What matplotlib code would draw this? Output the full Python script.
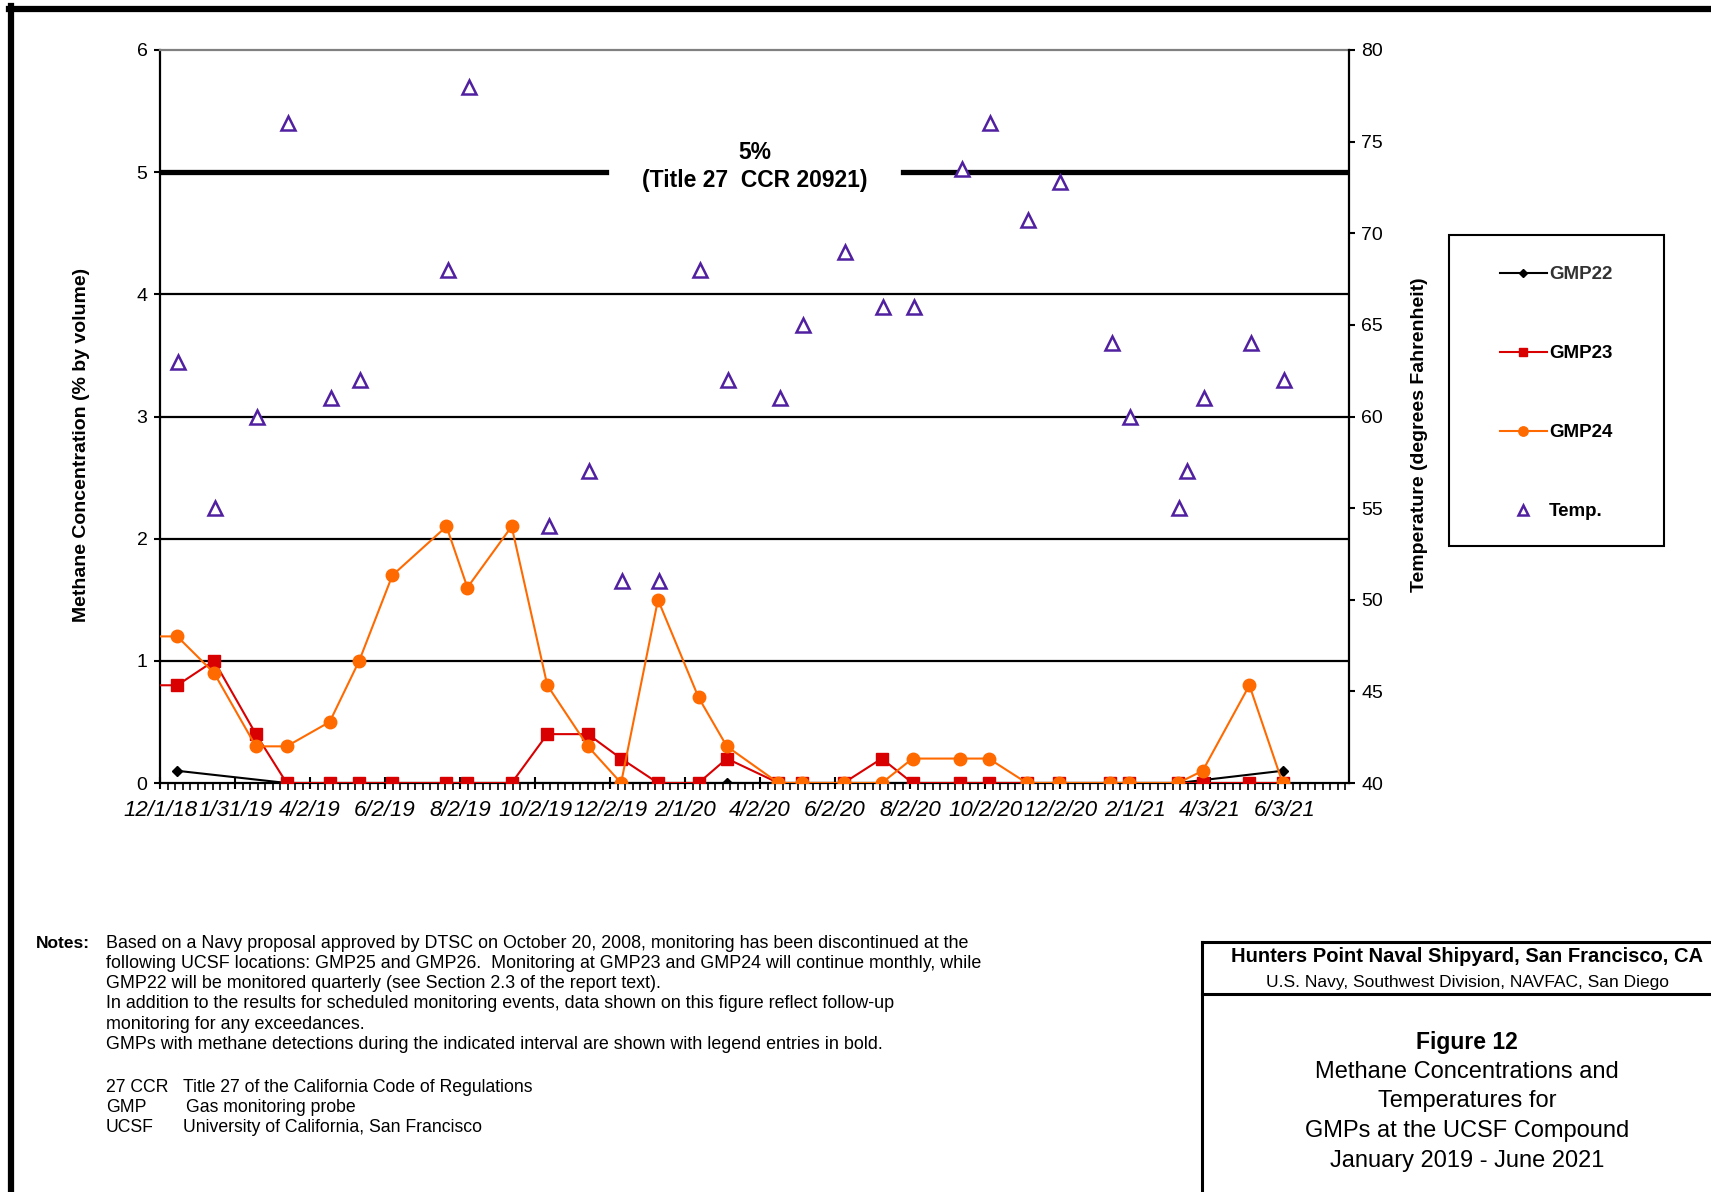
import matplotlib
matplotlib.use("Agg")
import matplotlib.pyplot as plt
import matplotlib.dates as mdates
from matplotlib.lines import Line2D
from matplotlib.patches import Rectangle
import numpy as np
import pandas as pd

plt.rcParams['font.family'] = ['Liberation Sans', 'DejaVu Sans']

W, H = 1711, 1192

# monthly sampling events (first one lies before the axis start)
gmp_dates = ["11/14/18", "12/15/18", "1/14/19", "2/17/19", "3/14/19", "4/18/19",
             "5/12/19", "6/8/19", "7/22/19", "8/8/19", "9/13/19", "10/12/19",
             "11/14/19", "12/11/19", "1/10/20", "2/12/20", "3/6/20", "4/17/20",
             "5/6/20", "6/9/20", "7/10/20", "8/4/20", "9/12/20", "10/5/20",
             "11/5/20", "12/1/20", "1/12/21", "1/27/21", "3/8/21", "3/28/21",
             "5/5/21", "6/1/21"]
gmp23 = [0.8, 0.8, 1.0, 0.4, 0, 0, 0, 0, 0, 0, 0, 0.4,
         0.4, 0.2, 0, 0, 0.2, 0, 0, 0, 0.2, 0, 0, 0,
         0, 0, 0, 0, 0, 0, 0, 0]
gmp24 = [1.2, 1.2, 0.9, 0.3, 0.3, 0.5, 1.0, 1.7, 2.1, 1.6, 2.1, 0.8,
         0.3, 0, 1.5, 0.7, 0.3, 0, 0, 0, 0, 0.2, 0.2, 0.2,
         0, 0, 0, 0, 0, 0.1, 0.8, 0]

# quarterly probe
gmp22_dates = ["12/15/18", "3/14/19", "6/8/19", "9/13/19", "12/11/19", "3/6/20",
               "6/9/20", "9/12/20", "12/1/20", "3/8/21", "6/1/21"]
gmp22 = [0.1, 0, 0, 0, 0, 0, 0, 0, 0, 0, 0.1]

temp_dates = ["12/16/18", "1/15/19", "2/18/19", "3/15/19", "4/19/19", "5/13/19",
              "7/23/19", "8/9/19", "10/13/19", "11/15/19", "12/12/19", "1/11/20",
              "2/13/20", "3/7/20", "4/18/20", "5/7/20", "6/10/20", "7/11/20",
              "8/5/20", "9/13/20", "10/6/20", "11/6/20", "12/2/20", "1/13/21",
              "1/28/21", "3/9/21", "3/15/21", "3/29/21", "5/6/21", "6/2/21"]
temp = [63, 55, 60, 76, 61, 62, 68, 78, 54, 57, 51, 51,
        68, 62, 61, 65, 69, 66, 66, 73.5, 76, 70.7, 72.8, 64,
        60, 55, 57, 61, 64, 62]

x_tick_labels = ["12/1/18", "1/31/19", "4/2/19", "6/2/19", "8/2/19", "10/2/19",
                 "12/2/19", "2/1/20", "4/2/20", "6/2/20", "8/2/20", "10/2/20",
                 "12/2/20", "2/1/21", "4/3/21", "6/3/21"]
x_end = "7/25/21"


def d(lst):
    return pd.to_datetime(lst, format="%m/%d/%y")


def fx(px):
    return px / W


def fy(py):
    return 1 - py / H


fig = plt.figure(figsize=(W / 100, H / 100), dpi=100)
ax = fig.add_axes([fx(160), fy(783), fx(1349) - fx(160), fy(50) - fy(783)])
ax2 = ax.twinx()

c22, c23, c24, ct = "black", "#D80000", "#FF6A00", "#5020A0"

l22, = ax.plot(d(gmp22_dates), gmp22, color=c22, lw=1.5, marker="D", ms=5.5, zorder=3)
l23, = ax.plot(d(gmp_dates), gmp23, color=c23, lw=1.5, marker="s", ms=8.5, zorder=4)
l24, = ax.plot(d(gmp_dates), gmp24, color=c24, lw=1.5, marker="o", ms=9, zorder=5)
lt, = ax2.plot(d(temp_dates), temp, ls="none", marker="^", ms=10, mfc="white",
               mec=ct, mew=1.8)

ticks = d(x_tick_labels)
ax.set_xlim(mdates.date2num(ticks[0]), mdates.date2num(d([x_end])[0]))
ax.set_xticks(ticks, x_tick_labels, fontstyle="italic", fontsize=16)
t0 = mdates.date2num(ticks[0])
ax.set_xticks(np.arange(t0, ax.get_xlim()[1], 6.1), minor=True)
ax.tick_params(axis="x", which="major", direction="inout", length=9, width=1.5, pad=8)
ax.tick_params(axis="x", which="minor", direction="out", length=5, width=1.2)

ax.set_ylim(0, 6)
ax.set_yticks(range(0, 7))
ax.tick_params(axis="y", direction="out", length=4, width=1.5, labelsize=14, pad=5)
ax2.set_ylim(40, 80)
ax2.set_yticks(range(40, 81, 5))
ax2.tick_params(axis="y", direction="out", length=4, width=1.5, labelsize=14, pad=5)

for v in [1, 2, 3, 4]:
    ax.axhline(v, color="black", lw=1.6, zorder=1)
ax.axhline(5, xmin=0, xmax=0.375, color="black", lw=3.8, zorder=1)
ax.axhline(5, xmin=0.625, xmax=1, color="black", lw=3.8, zorder=1)
ax.text(0.5, 5.16, "5%", transform=ax.get_yaxis_transform(), ha="center", va="center",
        fontsize=16.5, fontweight="bold")
ax.text(0.5, 4.93, "(Title 27  CCR 20921)", transform=ax.get_yaxis_transform(),
        ha="center", va="center", fontsize=16.5, fontweight="bold")

for a in (ax, ax2):
    for s in a.spines.values():
        s.set_linewidth(1.6)
ax.spines["right"].set_visible(False)
ax.spines["top"].set_color("#808080")
ax2.spines["left"].set_visible(False)
ax2.spines["bottom"].set_visible(False)
ax2.spines["top"].set_visible(False)

fig.text(fx(82), fy(445), "Methane Concentration (% by volume)", rotation=90,
         ha="center", va="center", fontsize=14, fontweight="bold")
fig.text(fx(1419), fy(435), "Temperature (degrees Fahrenheit)", rotation=90,
         ha="center", va="center", fontsize=14, fontweight="bold")

# legend
leg = fig.legend([l22, l23, l24, lt], ["GMP22", "GMP23", "GMP24", "Temp."],
                 loc="upper left", bbox_to_anchor=(fx(1500), fy(266)),
                 frameon=False, borderpad=0, borderaxespad=0, labelspacing=3.3,
                 handlelength=2.5, handletextpad=0.1, markerscale=0.75,
                 prop={"weight": "bold", "size": 13.5})
leg.get_texts()[0].set_color("#333333")
fig.add_artist(Rectangle((fx(1449), fy(546)), fx(1664) - fx(1449), fy(235) - fy(546),
                         transform=fig.transFigure, fill=False, ec="black", lw=1.5))

# page frame
fig.add_artist(Line2D([fx(9), 1], [fy(9), fy(9)], color="black", lw=4.5))
fig.add_artist(Line2D([fx(11), fx(11)], [fy(6), 0], color="black", lw=4.5))

# notes
notes = ["Based on a Navy proposal approved by DTSC on October 20, 2008, monitoring has been discontinued at the",
         "following UCSF locations: GMP25 and GMP26.  Monitoring at GMP23 and GMP24 will continue monthly, while",
         "GMP22 will be monitored quarterly (see Section 2.3 of the report text).",
         "In addition to the results for scheduled monitoring events, data shown on this figure reflect follow-up",
         "monitoring for any exceedances.",
         "GMPs with methane detections during the indicated interval are shown with legend entries in bold."]
note_y = [943, 963.5, 983, 1004, 1024.5, 1044.5]
fig.text(fx(36), fy(943), "Notes:", ha="left", va="center", fontsize=12.5, fontweight="bold")
for t, yy in zip(notes, note_y):
    fig.text(fx(106), fy(yy), t, ha="left", va="center", fontsize=12.9)

abbr = [("27 CCR", "Title 27 of the California Code of Regulations"),
        ("GMP", "Gas monitoring probe"),
        ("UCSF", "University of California, San Francisco")]
abbr_x = [183, 185.5, 183]
for (k, v), xx, yy in zip(abbr, abbr_x, [1087, 1107.5, 1127]):
    fig.text(fx(106), fy(yy), k, ha="left", va="center", fontsize=12.7)
    fig.text(fx(xx), fy(yy), v, ha="left", va="center", fontsize=12.7)

# title block
fig.add_artist(Line2D([fx(1202), 1], [fy(942), fy(942)], color="black", lw=2.2))
fig.add_artist(Line2D([fx(1202), 1], [fy(994), fy(994)], color="black", lw=2.2))
fig.add_artist(Line2D([fx(1202), fx(1202)], [fy(942), 0], color="black", lw=2.2))
cx = fx(1467)
fig.text(cx, fy(956), "Hunters Point Naval Shipyard, San Francisco, CA", ha="center",
         va="center", fontsize=14.5, fontweight="bold")
fig.text(cx, fy(983), "U.S. Navy, Southwest Division, NAVFAC, San Diego", ha="center",
         va="center", fontsize=12.5)
fig.text(cx, fy(1043), "Figure 12", ha="center", va="center", fontsize=16.5,
         fontweight="bold")
for t, yy in zip(["Methane Concentrations and", "Temperatures for",
                  "GMPs at the UCSF Compound", "January 2019 - June 2021"],
                 [1072.5, 1101, 1130.5, 1161]):
    fig.text(cx, fy(yy), t, ha="center", va="center", fontsize=17)

fig.savefig("out.png", dpi=100)
